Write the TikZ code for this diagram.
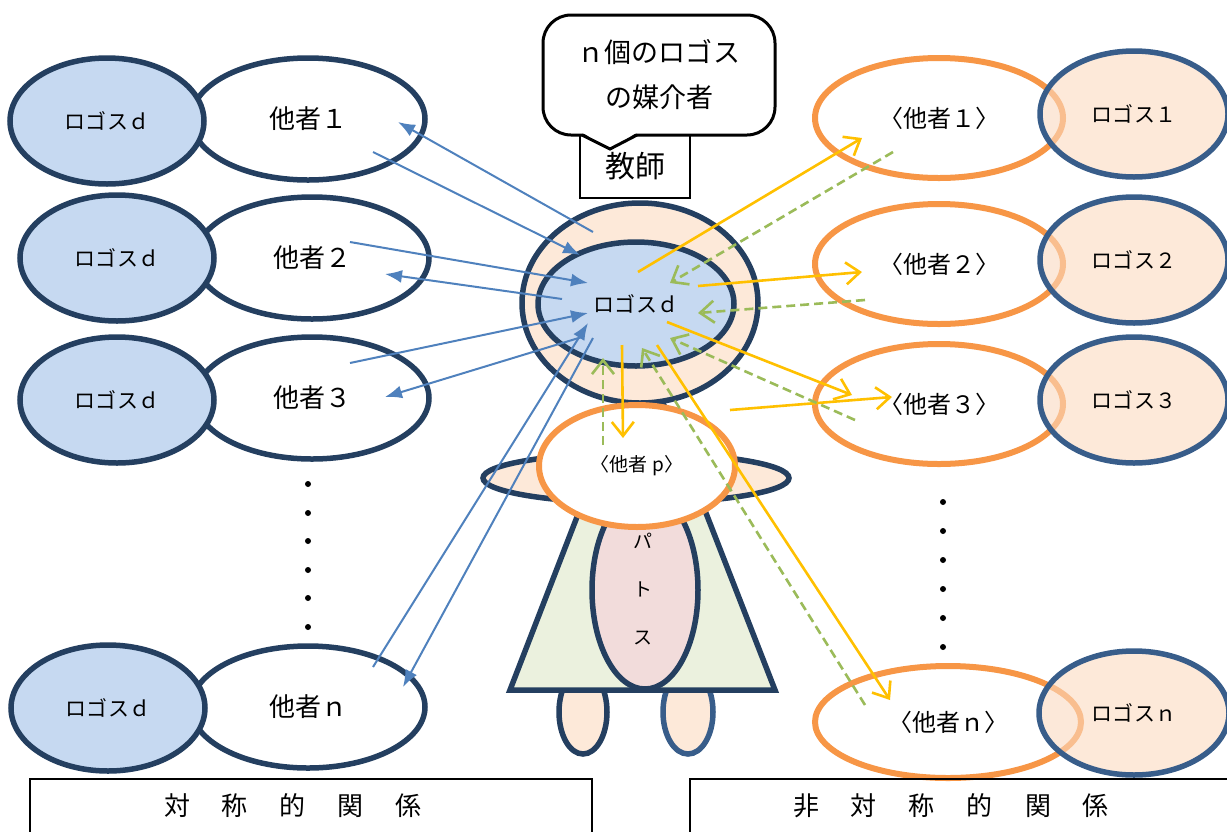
\documentclass[tikz,border=0pt]{standalone}
\usepackage{fontspec}
\setmainfont{Noto Sans CJK JP}
\usetikzlibrary{shapes.geometric,arrows.meta}

\definecolor{navy}{HTML}{243F60}
\definecolor{steel}{HTML}{385D8A}
\definecolor{logosblue}{HTML}{C6D9F1}
\definecolor{skin}{HTML}{FDE9D9}
\definecolor{skindeep}{HTML}{FBDAC0}
\definecolor{peel}{HTML}{F79646}
\definecolor{robe}{HTML}{EBF1DE}
\definecolor{heart}{HTML}{F2DCDB}
\definecolor{symline}{HTML}{4F81BD}
\definecolor{asymline}{HTML}{FFC000}
\definecolor{backline}{HTML}{9BBB59}

\begin{document}
\begin{tikzpicture}[x=1pt,y=-1pt]
		\newcommand{\fsz}[1]{\fontsize{#1}{#1}\selectfont}
		\newcommand{\wgap}{\hspace{32pt}}

		% shapes of the figures
		\tikzset{
			other/.style={ellipse, draw=navy, line width=5.5pt, fill=white,
				minimum width=234pt, minimum height=122pt, inner sep=0pt, font=\fsz{26}},
			logos/.style={ellipse, draw=navy, line width=5.5pt, fill=logosblue,
				minimum width=194pt, minimum height=126pt, inner sep=0pt, font=\fsz{21}},
			aother/.style={ellipse, draw=peel, line width=6pt, fill=white,
				minimum width=248pt, minimum height=120pt, inner sep=0pt, font=\fsz{24}},
			alogos/.style={ellipse, draw=steel, line width=5.5pt, fill=skindeep,
				fill opacity=0.6, text opacity=1,
				minimum width=188pt, minimum height=126pt, inner sep=0pt, font=\fsz{21}},
			limb/.style={ellipse, draw=navy, line width=5.5pt, fill=skin, inner sep=0pt},
			sym/.style={draw=symline, line width=2pt, -{Latex[length=17pt,width=13pt]}},
			asym/.style={draw=asymline, line width=2.6pt, -{Straight Barb[length=14pt,width=22pt]}},
			back/.style={draw=backline, line width=2.6pt, dash pattern=on 9pt off 5pt,
				-{Straight Barb[length=14pt,width=22pt]}},
			dot/.style={circle, fill=black, inner sep=0pt, minimum size=6pt}
		}

		\useasboundingbox (0,0) rectangle (1227,831);

		% left column: symmetric relations
		\node[other] (ot1) at (308,119) {他者１};
		\node[logos] (lg1) at (107,121) {ロゴスｄ};
		\node[other] (ot2) at (312,258) {他者２};
		\node[logos] (lg2) at (117,258) {ロゴスｄ};
		\node[other] (ot3) at (312,398) {他者３};
		\node[logos] (lg3) at (117,400) {ロゴスｄ};
		\node[other] (otn) at (308,707) {他者ｎ};
		\node[logos] (lgn) at (108,708) {ロゴスｄ};
		\foreach \y [count=\i] in {484,513,541,570,598,627}
			\node[dot] (ldot\i) at (308,\y) {};

		% right column: asymmetric relations
		\node[aother] (rot1) at (939,118) {〈他者１〉};
		\node[alogos] (rlg1) at (1134,114) {ロゴス１};
		\node[aother] (rot2) at (939,264) {〈他者２〉};
		\node[alogos] (rlg2) at (1134,260) {ロゴス２};
		\node[aother] (rot3) at (939,404) {〈他者３〉};
		\node[alogos] (rlg3) at (1134,400) {ロゴス３};
		\node[aother, minimum width=266pt, minimum height=112pt] (rotn) at (948,722) {〈他者ｎ〉};
		\node[alogos, minimum width=190pt, minimum height=124pt] (rlgn) at (1134,713) {ロゴスｎ};
		\foreach \y [count=\i] in {502,531,560,589,618,647}
			\node[dot] (rdot\i) at (943,\y) {};

		% the teacher: legs, robe, pathos, arms, head
		\node[limb, minimum width=48pt, minimum height=84pt] (legl) at (583,712) {};
		\node[limb, draw=steel, minimum width=50pt, minimum height=84pt] (legr) at (688,712) {};
		\filldraw[draw=navy, fill=robe, line width=5.5pt, line join=miter]
			(510,690) -- (775,690) -- (642,349) -- cycle;
		\node[ellipse, draw=navy, fill=heart, line width=5.5pt, inner sep=0pt,
			minimum width=106pt, minimum height=198pt] (pathos) at (645,590) {};
		\node[align=center, font=\fontsize{19}{48}\selectfont] (pathostxt) at (643,589) {パ\\ト\\ス};
		\node[limb, minimum width=306pt, minimum height=50pt] (arms) at (636,478) {};
		\node[limb, minimum width=236pt, minimum height=200pt] (head) at (640,303) {};
		\node[logos, minimum width=196pt, minimum height=124pt] (ctr) at (636,304) {ロゴスｄ};
		\node[aother, minimum width=196pt, minimum height=122pt, font=\fsz{19}] (otp) at (637,466) {〈他者 p〉};

		% teacher label and speech bubble
		\node[draw, line width=1.3pt, minimum width=110pt, minimum height=63pt, font=\fsz{30}] (teacher) at (635,166.5) {教師};
		\node[draw, fill=white, line width=3pt, rounded corners=28pt, align=center,
			minimum width=232pt, minimum height=120pt, font=\fontsize{27}{45}\selectfont] (talk) at (659,75) {ｎ個のロゴス\\の媒介者};
		\coordinate (tailL) at (582,135);
		\coordinate (tailR) at (637,135);
		\coordinate (tailT) at (610,149);
		\fill[white] (582,132.5) -- (637,132.5) -- (tailT) -- cycle;
		\draw[line width=3pt, line join=miter] (tailL) -- (tailT) -- (tailR);

		% arrow ends, symmetric side
		\coordinate (s1a) at (373,152); \coordinate (s1b) at (580,255);
		\coordinate (s2a) at (593,232); \coordinate (s2b) at (398,122);
		\coordinate (s3a) at (350,242); \coordinate (s3b) at (588,283);
		\coordinate (s4a) at (562,299); \coordinate (s4b) at (385,274);
		\coordinate (s5a) at (350,363); \coordinate (s5b) at (588,313);
		\coordinate (s6a) at (582,337); \coordinate (s6b) at (385,397);
		\coordinate (s7a) at (373,667); \coordinate (s7b) at (588,323);
		\coordinate (s8a) at (593,338); \coordinate (s8b) at (403,687);
		\foreach \i in {1,...,8}
			\draw[sym] (s\i a) -- (s\i b);

		% arrow ends, asymmetric side
		\coordinate (a1a) at (638,272); \coordinate (a1b) at (862,138);
		\coordinate (a2a) at (698,286); \coordinate (a2b) at (862,272);
		\coordinate (a3a) at (667,322); \coordinate (a3b) at (852,395);
		\coordinate (a4a) at (730,410); \coordinate (a4b) at (892,397);
		\coordinate (a5a) at (622,345); \coordinate (a5b) at (623,438);
		\coordinate (a6a) at (657,345); \coordinate (a6b) at (890,700);
		\foreach \i in {1,...,6}
			\draw[asym] (a\i a) -- (a\i b);

		% answers coming back (dashed)
		\coordinate (b1a) at (893,152); \coordinate (b1b) at (670,283);
		\coordinate (b2a) at (865,300); \coordinate (b2b) at (698,313);
		\coordinate (b3a) at (855,420); \coordinate (b3b) at (670,338);
		\coordinate (b4a) at (865,705); \coordinate (b4b) at (642,348);
		\coordinate (b5a) at (603,445); \coordinate (b5b) at (603,358);
		\foreach \i in {1,...,5}
			\draw[back] (b\i a) -- (b\i b);

		% captions
		\draw[line width=1.2pt] (30,779) rectangle (592,845);
		\draw[line width=1.2pt] (690,779) rectangle (1240,845);
		\node[font=\fsz{26}] (symtxt) at (293,806) {対\wgap 称\wgap 的\wgap 関\wgap 係};
		\node[font=\fsz{26}] (asymtxt) at (951,806) {非\wgap 対\wgap 称\wgap 的\wgap 関\wgap 係};
\end{tikzpicture}
\end{document}
